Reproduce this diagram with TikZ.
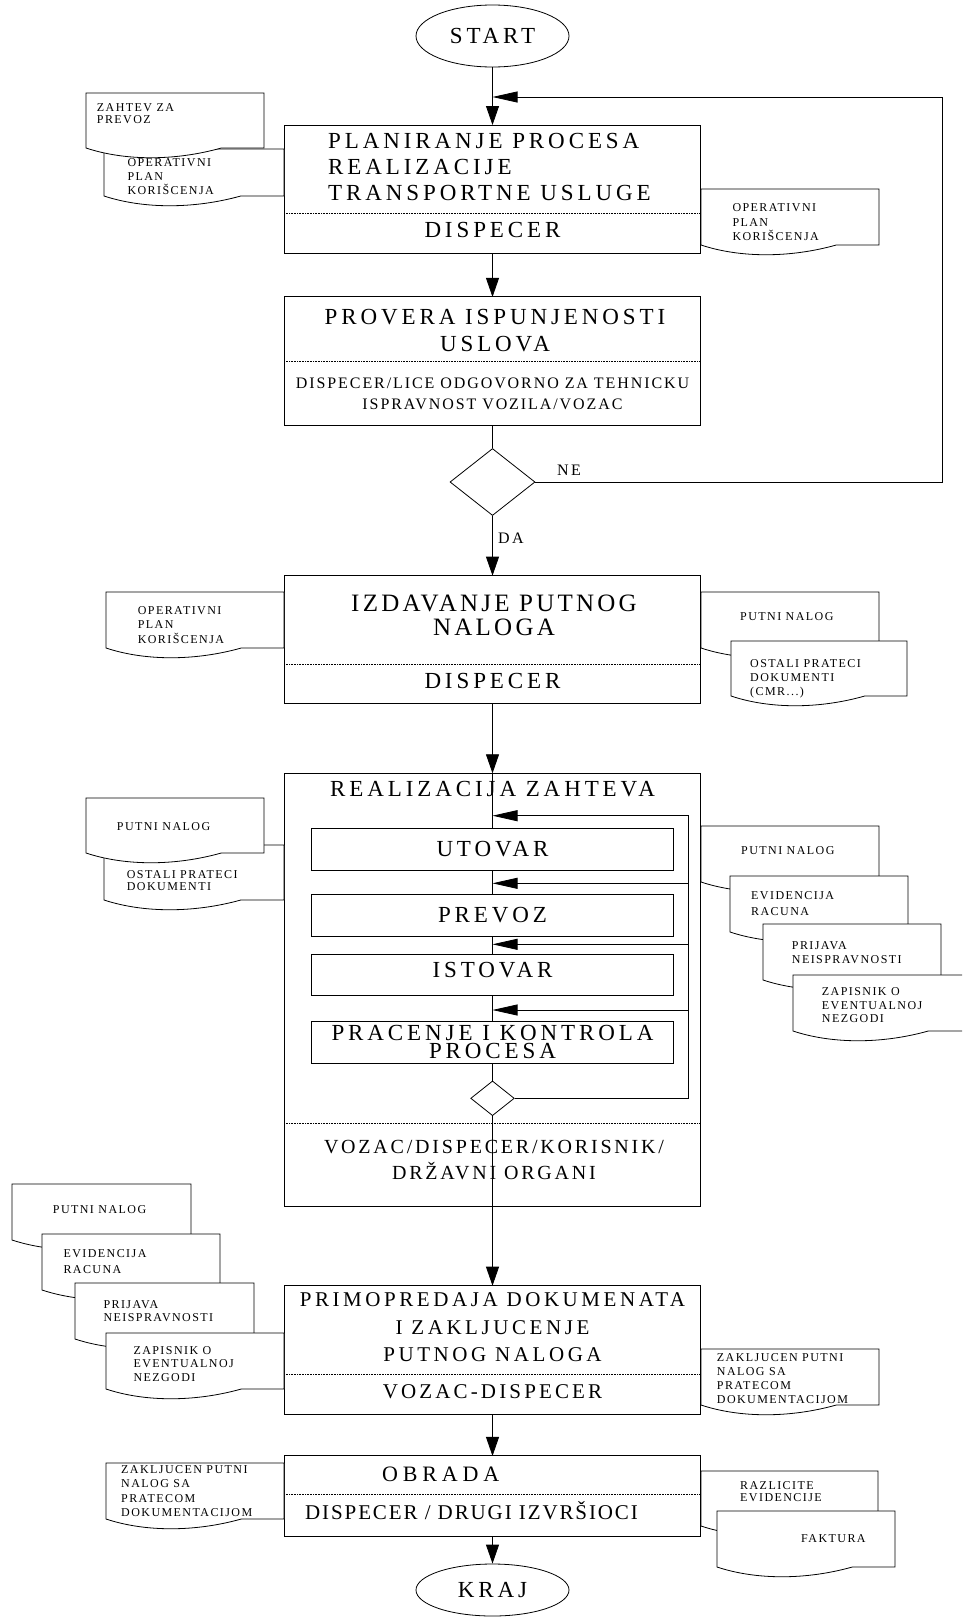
\documentclass[tikz,border=0pt]{standalone}
\usepackage{fontspec}
\setmainfont{Liberation Serif}
\usetikzlibrary{arrows.meta,shapes.geometric,calc}

% document symbol: top left corner, bottom right corner, wavy bottom
\newcommand{\docshape}[4]{%
  \pgfmathsetmacro{\docw}{#1+0.76*(#3-#1)}%
  \pgfmathsetmacro{\docca}{#1+0.5*(#3-#1)}%
  \pgfmathsetmacro{\doccb}{#1+0.22*(#3-#1)}%
  \pgfmathsetmacro{\docdip}{#4+13}%
  \filldraw[docline] (#1,#2) -- (#3,#2) -- (#3,#4) -- (\docw,#4)
    .. controls (\docca,\docdip) and (\doccb,\docdip) .. (#1,#4) -- cycle;}

\begin{document}
\begin{tikzpicture}[x=1pt, y=-1pt,
    bigtxt/.style={font=\fontsize{23}{26}\selectfont\addfontfeatures{LetterSpace=17}},
    midtxt/.style={font=\fontsize{20}{26}\selectfont\addfontfeatures{LetterSpace=14}},
    smalltxt/.style={font=\fontsize{16}{20.3}\selectfont\addfontfeatures{LetterSpace=12}},
    procbox/.style={rectangle, draw, line width=1pt, inner sep=0pt, outer sep=0pt, minimum width=416.5pt},
    subbox/.style={rectangle, draw, line width=1pt, inner sep=0pt, minimum width=362.6pt, minimum height=41.7pt, bigtxt},
    term/.style={ellipse, draw, line width=0.8pt, inner sep=0pt, minimum width=153pt, bigtxt},
    decis/.style={diamond, draw, line width=0.8pt, inner sep=0pt},
    docline/.style={draw, fill=white, line width=0.8pt},
    doctxt/.style={font=\fontsize{12}{#1}\selectfont\addfontfeatures{LetterSpace=12}, align=left, inner sep=0pt, anchor=north west},
    doctxt/.default=13.5,
    sep/.style={densely dotted, line width=0.6pt},
    conn/.style={line width=0.8pt},
    varr/.style={-{Triangle[length=19pt,width=13pt]}, line width=0.8pt},
    harr/.style={-{Triangle[length=25pt,width=11pt]}, line width=0.8pt}
]
    \useasboundingbox (0,0) rectangle (962,1617);
    \clip (0,0) rectangle (962,1617);

    % Terminals
    \node[term, minimum height=62pt] (start) at (492.5,36) {START};
    \node[term, minimum height=52pt] (kraj) at (492.5,1590) {KRAJ};

    % Process boxes
    \node[procbox, minimum height=128pt] (plan) at (492.5,189) {};
    \node[procbox, minimum height=128.7pt] (prov) at (492.5,361.3) {};
    \node[procbox, minimum height=128.3pt] (izd) at (492.5,639.8) {};
    \node[procbox, minimum height=433.4pt] (realiz) at (492.5,990) {};
    \node[procbox, minimum height=128.6pt] (primo) at (492.5,1350) {};
    \node[procbox, minimum height=80.7pt] (obr) at (492.5,1496.3) {};

    \draw[sep] (plan.west |- 0,213.3) -- (plan.east |- 0,213.3);
    \draw[sep] (prov.west |- 0,361) -- (prov.east |- 0,361);
    \draw[sep] (izd.west |- 0,664.3) -- (izd.east |- 0,664.3);
    \draw[sep] (realiz.west |- 0,1123.3) -- (realiz.east |- 0,1123.3);
    \draw[sep] (primo.west |- 0,1374.3) -- (primo.east |- 0,1374.3);
    \draw[sep] (obr.west |- 0,1494) -- (obr.east |- 0,1494);

    % Box texts
    \node[bigtxt, align=left, anchor=west, inner sep=0pt] (plant) at (328,167.1) {PLANIRANJE PROCESA\\REALIZACIJE\\TRANSPORTNE USLUGE};
    \node[bigtxt, inner sep=0pt] (pland) at (492.5,230.4) {DISPECER};
    \node[bigtxt, font=\fontsize{23}{26.7}\selectfont\addfontfeatures{LetterSpace=17}, align=center, inner sep=0pt] (provt) at (495,330.8) {PROVERA ISPUNJENOSTI\\USLOVA};
    \node[smalltxt, align=center, inner sep=0pt] (provd) at (492.5,393.8) {DISPECER/LICE ODGOVORNO ZA TEHNICKU\\ISPRAVNOST VOZILA/VOZAC};
    \node[font=\fontsize{25}{24}\selectfont\addfontfeatures{LetterSpace=13}, align=center, inner sep=0pt] (izdt) at (494,615) {IZDAVANJE PUTNOG\\NALOGA};
    \node[bigtxt, inner sep=0pt] (izdd) at (492.5,681) {DISPECER};
    \node[bigtxt, inner sep=0pt] (realt) at (492.5,789) {REALIZACIJA ZAHTEVA};
    \node[midtxt, align=center, inner sep=0pt] (reald) at (494,1159.7) {VOZAC/DISPECER/KORISNIK/\\DRŽAVNI ORGANI};
    \node[font=\fontsize{21}{27.5}\selectfont\addfontfeatures{LetterSpace=17}, align=center, inner sep=0pt] (primt) at (492.5,1327.5) {PRIMOPREDAJA DOKUMENATA\\I ZAKLJUCENJE\\PUTNOG NALOGA};
    \node[font=\fontsize{21}{26}\selectfont\addfontfeatures{LetterSpace=15}, inner sep=0pt] (primd) at (492.5,1391.3) {VOZAC-DISPECER};
    \node[font=\fontsize{22}{26}\selectfont\addfontfeatures{LetterSpace=22}, anchor=west, inner sep=0pt] (obrt) at (382,1474.5) {OBRADA};
    \node[font=\fontsize{21}{26}\selectfont\addfontfeatures{LetterSpace=9}, anchor=west, inner sep=0pt] (obrd) at (305,1510.7) {DISPECER / DRUGI IZVRŠIOCI};

    % Inner steps
    \node[subbox] (utovar) at (492.5,849.2) {UTOVAR};
    \node[subbox] (prevoz) at (492.5,915.2) {PREVOZ};
    \node[subbox, text depth=10pt] (istovar) at (492.5,975) {ISTOVAR};
    \node[subbox, font=\fontsize{23}{18}\selectfont\addfontfeatures{LetterSpace=17}, align=center] (pracenje) at (492.5,1042.2) {PRACENJE I KONTROLA\\PROCESA};

    % Decisions
    \node[decis, minimum width=85pt, minimum height=67pt] (dia1) at (492.5,482) {};
    \node[decis, minimum width=43.6pt, minimum height=34.7pt] (dia2) at (492.5,1098.3) {};

    % Documents
    \docshape{104}{149}{284}{196}
    \node[doctxt=14] (oplan1) at (127.3,158) {OPERATIVNI\\PLAN\\KORIŠCENJA};
    \docshape{86}{93}{264}{148}
    \node[doctxt=12.3] (zahtev) at (96.7,103) {ZAHTEV ZA\\PREVOZ};
    \docshape{701}{189}{879}{245}
    \node[doctxt=14.5] (oplan2) at (732.3,203.7) {OPERATIVNI\\PLAN\\KORIŠCENJA};

    \docshape{106}{592}{284}{648}
    \node[doctxt=14.3] (oplan3) at (137.6,606.5) {OPERATIVNI\\PLAN\\KORIŠCENJA};
    \docshape{701}{592}{879}{648}
    \node[doctxt] (putni1) at (740,612.6) {PUTNI NALOG};
    \docshape{731}{641}{907}{696}
    \node[doctxt=14.3] (ostali1) at (750,659) {OSTALI PRATECI\\DOKUMENTI\\(CMR...)};

    \docshape{104}{845}{284}{900}
    \node[doctxt=12.7] (ostali2) at (126.7,870) {OSTALI PRATECI\\DOKUMENTI};
    \docshape{86}{798}{264}{853}
    \node[doctxt] (putni2) at (116.7,822.7) {PUTNI NALOG};
    \docshape{701}{826}{879}{882}
    \node[doctxt] (putni3) at (741,846.3) {PUTNI NALOG};
    \docshape{730}{876}{908}{932}
    \node[doctxt=16] (evid1) at (751,891) {EVIDENCIJA\\RACUNA};
    \docshape{763}{924}{941}{980}
    \node[doctxt=14.3] (prij1) at (791.7,941) {PRIJAVA\\NEISPRAVNOSTI};
    \docshape{793}{975}{971}{1031}
    \node[doctxt=13.9] (zap1) at (821.7,987) {ZAPISNIK O\\EVENTUALNOJ\\NEZGODI};

    \docshape{12}{1184}{191}{1240}
    \node[doctxt] (putni4) at (52.7,1205.3) {PUTNI NALOG};
    \docshape{42}{1234}{220}{1290}
    \node[doctxt=15.6] (evid2) at (63.3,1249.7) {EVIDENCIJA\\RACUNA};
    \docshape{75}{1283}{254}{1339}
    \node[doctxt=13.4] (prij2) at (103.3,1300.3) {PRIJAVA\\NEISPRAVNOSTI};
    \docshape{106}{1333}{284}{1389}
    \node[doctxt=13.7] (zap2) at (133.3,1346) {ZAPISNIK O\\EVENTUALNOJ\\NEZGODI};
    \docshape{701}{1349}{879}{1405}
    \node[doctxt=13.9] (zakl1) at (716.7,1353.7) {ZAKLJUCEN PUTNI\\NALOG SA\\PRATECOM\\DOKUMENTACIJOM};

    \docshape{106}{1463}{284}{1519}
    \node[doctxt=14.5] (zakl2) at (121,1465.3) {ZAKLJUCEN PUTNI\\NALOG SA\\PRATECOM\\DOKUMENTACIJOM};
    \docshape{701}{1471}{878}{1526}
    \node[doctxt=12] (razl) at (740,1481) {RAZLICITE\\EVIDENCIJE};
    \docshape{717}{1511}{895}{1567}
    \node[doctxt] (faktura) at (801,1534.5) {FAKTURA};

    % Flow
    \coordinate (fbin) at (492.5,97);
    \coordinate (fbc) at (942,97);
    \coordinate (ret) at (688,815.7);
    \coordinate (in1) at (492.5,815.7);
    \coordinate (in2) at (492.5,883.3);
    \coordinate (in3) at (492.5,944.3);
    \coordinate (in4) at (492.5,1010);

    \draw[varr] (start.south) -- (plan.north);
    \draw[harr] (dia1.east) -| (fbc) -- (fbin);
    \draw[varr] (plan.south) -- (prov.north);
    \draw[conn] (prov.south) -- (dia1.north);
    \draw[varr] (dia1.south) -- (izd.north);
    \draw[varr] (izd.south) -- (realiz.north);
    \draw[conn] (realiz.north) -- (utovar.north);
    \draw[conn] (utovar.south) -- (prevoz.north);
    \draw[conn] (prevoz.south) -- (istovar.north);
    \draw[conn] (istovar.south) -- (pracenje.north);
    \draw[conn] (pracenje.south) -- (dia2.north);
    \draw[harr] (dia2.east) -| (ret) -- (in1);
    \draw[harr] (ret |- in2) -- (in2);
    \draw[harr] (ret |- in3) -- (in3);
    \draw[harr] (ret |- in4) -- (in4);
    \draw[varr] (dia2.south) -- (primo.north);
    \draw[varr] (primo.south) -- (obr.north);
    \draw[varr] (obr.south) -- (kraj.north);

    % Labels
    \node[font=\fontsize{16}{18}\selectfont\addfontfeatures{LetterSpace=15}, anchor=base west, inner sep=0pt] (ne) at (557,475.5) {NE};
    \node[font=\fontsize{16}{18}\selectfont\addfontfeatures{LetterSpace=15}, anchor=base west, inner sep=0pt] (da) at (498,543.5) {DA};
\end{tikzpicture}
\end{document}
